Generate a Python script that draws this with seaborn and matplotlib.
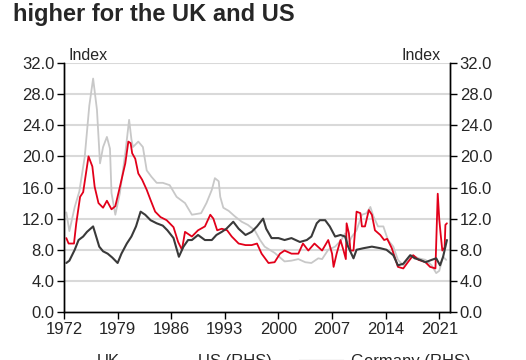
import matplotlib
matplotlib.use("Agg")
import matplotlib.pyplot as plt
import seaborn as sns
import numpy as np

# values (index, both axes 0-32)
uk_year = [1972.3, 1972.7, 1973.4, 1974.0, 1974.7, 1975.3, 1975.8, 1976.3, 1976.7, 1977.1,
           1977.6, 1978.0, 1978.2, 1978.7, 1979.3, 1980.0, 1980.5, 1980.8, 1981.0, 1981.7,
           1982.3, 1982.8, 1983.4, 1984.1, 1984.9, 1985.8, 1986.7, 1987.8, 1988.7, 1989.9,
           1990.6, 1991.3, 1991.7, 1992.2, 1992.4, 1992.8, 1993.5, 1994.3, 1995.2, 1996.0,
           1996.9, 1997.6, 1998.2, 1999.5, 2000.8, 2001.7, 2002.6, 2003.5, 2004.3, 2005.2,
           2005.7, 2006.5, 2007.4, 2008.2, 2008.7, 2009.1, 2009.6, 2010.2, 2010.9, 2011.5,
           2012.0, 2012.4, 2013.0, 2013.7, 2014.3, 2015.0, 2015.6, 2016.3, 2017.4, 2018.3,
           2019.2, 2020.0, 2020.6, 2021.0, 2021.5, 2021.9]
uk_val = [12.8, 10.4, 13.5, 15.5, 19.9, 26.5, 30.0, 26.0, 19.1, 21.2,
          22.5, 21.0, 15.3, 12.5, 15.3, 20.4, 24.7, 22.2, 21.2, 21.9,
          21.2, 18.2, 17.4, 16.6, 16.6, 16.3, 14.8, 14.0, 12.5, 12.7,
          14.0, 15.7, 17.2, 16.8, 14.8, 13.4, 13.0, 12.3, 11.6, 11.2,
          10.5, 9.25, 8.4, 7.6, 6.5, 6.6, 6.8, 6.4, 6.3, 6.9,
          6.8, 8.0, 8.4, 9.25, 10.1, 8.8, 9.7, 10.5, 12.5, 12.7,
          13.5, 12.3, 11.0, 11.0, 9.25, 8.4, 6.7, 6.0, 7.3, 6.9,
          6.7, 6.0, 5.0, 5.3, 7.1, 6.7]

us_year = [1972.3, 1972.6, 1973.3, 1973.6, 1974.1, 1974.5, 1975.2, 1975.7, 1976.0, 1976.5,
           1977.1, 1977.6, 1978.2, 1978.7, 1979.3, 1980.0, 1980.4, 1980.7, 1980.9, 1981.3,
           1981.7, 1982.2, 1982.8, 1983.3, 1983.9, 1984.6, 1985.4, 1986.3, 1986.9, 1987.4,
           1987.8, 1988.7, 1989.5, 1990.4, 1991.1, 1991.5, 1992.0, 1992.6, 1993.3, 1993.9,
           1994.8, 1995.7, 1996.5, 1997.2, 1997.8, 1998.7, 1999.5, 2000.2, 2000.8, 2001.7,
           2002.6, 2003.2, 2003.9, 2004.7, 2005.7, 2006.5, 2007.0, 2007.2, 2007.6, 2008.1,
           2008.5, 2008.8, 2008.9, 2009.2, 2009.4, 2009.8, 2010.2, 2010.7, 2010.9, 2011.3,
           2011.8, 2012.2, 2012.6, 2013.3, 2013.8, 2014.2, 2014.8, 2015.3, 2015.6, 2016.3,
           2016.9, 2017.6, 2018.3, 2019.2, 2019.8, 2020.5, 2020.8, 2021.0, 2021.2, 2021.4,
           2021.7, 2021.8, 2022.0]
us_val = [9.5, 8.8, 8.8, 11.4, 14.8, 15.4, 20.0, 18.7, 16.1, 14.0,
          13.4, 14.3, 13.2, 13.6, 16.1, 19.1, 21.9, 21.7, 20.4, 19.7,
          17.8, 17.0, 15.7, 14.4, 12.9, 12.2, 11.8, 10.9, 9.0, 8.0,
          10.3, 9.7, 10.5, 11.0, 12.5, 12.0, 10.5, 10.7, 10.5, 9.7,
          8.8, 8.6, 8.6, 8.8, 7.5, 6.3, 6.4, 7.5, 7.9, 7.5,
          7.5, 8.8, 7.9, 8.8, 7.9, 9.25, 7.5, 5.8, 7.5, 9.25,
          7.9, 6.8, 11.4, 10.1, 7.9, 7.9, 12.9, 12.7, 11.0, 11.0,
          13.1, 12.5, 10.5, 9.9, 9.25, 9.4, 8.2, 6.7, 5.8, 5.6,
          6.4, 7.3, 6.7, 6.4, 5.8, 5.6, 15.2, 11.9, 9.8, 7.9,
          8.3, 11.2, 11.4]

de_year = [1972.3, 1972.7, 1973.4, 1973.9, 1974.5, 1975.0, 1975.8, 1976.2, 1976.6, 1977.1,
           1977.7, 1978.3, 1979.0, 1979.5, 1980.2, 1980.8, 1981.4, 1982.0, 1982.6, 1983.3,
           1984.1, 1984.9, 1985.5, 1986.3, 1987.0, 1987.6, 1988.2, 1988.7, 1989.5, 1990.4,
           1991.3, 1991.9, 1992.6, 1993.2, 1994.1, 1994.8, 1995.7, 1996.5, 1997.2, 1998.0,
           1998.4, 1999.1, 2000.0, 2000.8, 2001.7, 2002.8, 2003.7, 2004.3, 2005.0, 2005.4,
           2006.1, 2006.7, 2007.4, 2008.1, 2008.7, 2009.1, 2009.8, 2010.2, 2011.1, 2012.2,
           2013.3, 2014.1, 2015.0, 2015.6, 2016.3, 2017.2, 2017.8, 2018.5, 2019.2, 2020.0,
           2020.6, 2021.1, 2021.5, 2022.0]
de_val = [6.3, 6.6, 8.0, 9.25, 9.7, 10.3, 11.0, 9.7, 8.4, 7.8,
          7.5, 7.0, 6.3, 7.5, 8.8, 9.7, 11.0, 12.9, 12.5, 11.8,
          11.4, 11.1, 10.5, 9.5, 7.1, 8.4, 9.25, 9.25, 9.9, 9.25,
          9.25, 9.9, 10.3, 10.7, 11.6, 10.7, 9.9, 10.3, 11.0, 12.0,
          10.7, 9.5, 9.5, 9.25, 9.5, 9.0, 9.25, 9.7, 11.4, 11.8,
          11.8, 11.0, 9.7, 9.9, 9.7, 8.4, 6.9, 8.0, 8.2, 8.4,
          8.2, 8.0, 7.3, 6.0, 6.2, 7.3, 6.9, 6.7, 6.4, 6.7,
          6.9, 6.0, 7.1, 9.25]

x_ticks = [1972, 1979, 1986, 1993, 2000, 2007, 2014, 2021]
y_ticks = [0, 4, 8, 12, 16, 20, 24, 28, 32]

sns.set_style("white")
plt.rcParams['font.family'] = ['Liberation Sans', 'DejaVu Sans']

fig = plt.figure(figsize=(5.26, 3.6), dpi=100)
ax = fig.add_axes([0.1217, 0.1333, 0.7338, 0.6917])
ax2 = ax.twinx()

for y in y_ticks[1:]:
    ax.axhline(y, color='#d9d9d9', lw=1.5, zorder=0)

sns.lineplot(x=uk_year, y=uk_val, ax=ax, color='#c8c8c8', lw=1.3, label='UK', legend=False)
sns.lineplot(x=us_year, y=us_val, ax=ax2, color='#e2001a', lw=1.3, label='US (RHS)', legend=False)
sns.lineplot(x=de_year, y=de_val, ax=ax2, color='#3a3a3a', lw=1.5, label='Germany (RHS)', legend=False)

for a in (ax, ax2):
    a.set_ylim(0, 32)
    a.set_yticks(y_ticks)
    a.set_yticklabels([f"{v:.1f}" for v in y_ticks], fontsize=12)
    a.set_xlim(1972, 2022.4)
    a.set_ylabel('')
    a.spines['top'].set_visible(False)
    for s in ('left', 'right', 'bottom'):
        a.spines[s].set_color('black')
        a.spines[s].set_linewidth(1.0)
    a.tick_params(axis='both', direction='out', length=5, width=1, color='black', pad=2)

ax.set_xticks(x_ticks)
ax.set_xticklabels([str(v) for v in x_ticks], fontsize=12)
ax.tick_params(axis='y', left=True, right=False)
ax2.tick_params(axis='y', right=True, left=False)
ax.tick_params(axis='x', bottom=True)
ax.grid(False)
ax2.grid(False)

ax.text(0.012, 1.0, 'Index', transform=ax.transAxes, ha='left', va='bottom', fontsize=11.5)
ax.text(0.975, 1.0, 'Index', transform=ax.transAxes, ha='right', va='bottom', fontsize=11.5)

fig.text(0.025, 0.96, 'higher for the UK and US', fontsize=17, fontweight='bold',
         ha='left', va='center')

h1, l1 = ax.get_legend_handles_labels()
h2, l2 = ax2.get_legend_handles_labels()
fig.legend(h1 + h2, l1 + l2, loc='upper center', bbox_to_anchor=(0.49, 0.057), ncol=3,
           frameon=False, fontsize=12, handlelength=2.7, columnspacing=1.6, handletextpad=0.4)

fig.savefig('out.png', dpi=100)
